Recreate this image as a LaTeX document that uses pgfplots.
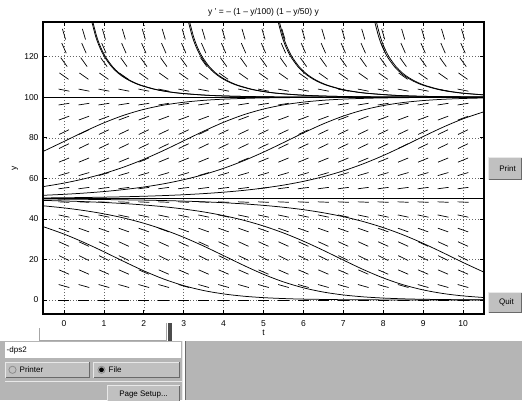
\documentclass[border=0pt]{standalone}
\usepackage{fontspec}
\setmainfont{Liberation Sans}
\usepackage{pgfplots}
\pgfplotsset{compat=1.18}
\usepackage{pgfplotstable}

\definecolor{panel}{RGB}{181,181,181}
\definecolor{btn}{RGB}{192,192,192}
\definecolor{shadow}{RGB}{105,105,105}
\definecolor{hilite}{RGB}{232,232,232}

% slope segments of the field, one row of the grid per line (same in every column)
\pgfplotstableread{
y     u      v
0     0.2757  0
6.9   0.2654 -1.4695
13.8  0.2526 -2.1752
20.7  0.2477 -2.3824
27.6  0.2510 -2.2467
34.5  0.2597 -1.8195
41.4  0.2697 -1.1255
48.3  0.2754 -0.2338
55.2  0.2734  0.7031
62.1  0.2648  1.5084
69.0  0.2548  2.0711
75.9  0.2484  2.3536
82.8  0.2491  2.3268
89.7  0.2583  1.8951
96.6  0.2724  0.8338
103.5 0.2705 -1.0484
110.4 0.2254 -3.1258
117.3 0.1612 -4.4026
124.2 0.1113 -4.9648
131.1 0.0787 -5.2011
}\slopes

\newcommand\guibtn[4]{%
  \fill[btn] (#1,#2) rectangle (#3,#4);
  \draw[hilite, line width=1pt] (#1+0.5,#2+0.5) -- (#1+0.5,#4-0.5) -- (#3-0.5,#4-0.5);
  \draw[shadow, line width=1pt] (#1+0.5,#2+0.5) -- (#3-0.5,#2+0.5) -- (#3-0.5,#4-0.5);}

\begin{document}
\begin{tikzpicture}[x=1pt,y=1pt]
\useasboundingbox (0,0) rectangle (522,400);
\fill[white] (0,0) rectangle (522,400);

\begin{axis}[
    at={(43pt,86pt)}, anchor=south west,
    scale only axis, width=441pt, height=292pt,
    xmin=-0.526, xmax=10.526, ymin=-6.9, ymax=137.1,
    xtick={0,1,...,10}, ytick={0,20,...,120},
    grid=major,
    major grid style={black!60, dash pattern=on 0.7pt off 2.3pt, line width=0.5pt},
    tick align=inside, major tick length=4pt,
    axis line style={line width=1.4pt},
    tick style={black, line width=0.6pt},
    every tick label/.append style={font=\fontsize{8.5}{10}\selectfont},
    xticklabel style={yshift=-2.8pt},
    yticklabel style={xshift=-1pt},
    /pgf/number format/assume math mode=true,
]
% direction field
\pgfplotsinvokeforeach{0,0.5,1,1.5,2,2.5,3,3.5,4,4.5,5,5.5,6,6.5,7,7.5,8,8.5,9,9.5,10}{
  \addplot[black, line width=0.7pt, quiver={u=\thisrow{u}, v=\thisrow{v}}]
    table[x expr={#1-0.5*\thisrow{u}}, y expr={\thisrow{y}-0.5*\thisrow{v}}] {\slopes};
}

% equilibria
\addplot[black, line width=1.3pt] coordinates {(-0.526,100) (10.526,100)};
\addplot[black, line width=1.3pt] coordinates {(-0.526,50) (10.526,50)};

% solutions above 100
\addplot[black, line width=0.75pt, smooth] coordinates {
 (0.699,137.1) (0.794,130) (0.887,125) (1.013,120) (1.195,115) (1.350,112) (1.485,110) (1.658,108)
 (1.895,106) (2.246,104) (2.506,103) (2.884,102) (3.548,101) (4.226,100.5) (5.133,100.2) (5.824,100.1)
 (6.515,100.05) (8.5,100.007) (10.526,100.001)};
\addplot[black, line width=0.75pt, smooth] coordinates {
 (0.724,137.1) (0.819,130) (0.912,125) (1.038,120) (1.220,115) (1.375,112) (1.510,110) (1.683,108)
 (1.920,106) (2.271,104) (2.531,103) (2.909,102) (3.573,101) (4.251,100.5) (5.158,100.2) (5.849,100.1)
 (6.540,100.05) (8.5,100.007) (10.526,100.001)};
\addplot[black, line width=0.75pt, smooth] coordinates {
 (3.119,137.1) (3.215,130) (3.307,125) (3.433,120) (3.615,115) (3.770,112) (3.905,110) (4.079,108)
 (4.315,106) (4.667,104) (4.927,103) (5.304,102) (5.968,101) (6.646,100.5) (7.554,100.2) (8.244,100.1)
 (8.935,100.05) (10.526,100.01)};
\addplot[black, line width=0.75pt, smooth] coordinates {
 (3.149,137.1) (3.245,130) (3.337,125) (3.463,120) (3.645,115) (3.800,112) (3.935,110) (4.109,108)
 (4.345,106) (4.697,104) (4.957,103) (5.334,102) (5.998,101) (6.676,100.5) (7.584,100.2) (8.274,100.1)
 (8.965,100.05) (10.526,100.011)};
\addplot[black, line width=0.75pt, smooth] coordinates {
 (5.369,137.1) (5.464,130) (5.557,125) (5.683,120) (5.865,115) (6.020,112) (6.155,110) (6.328,108)
 (6.565,106) (6.916,104) (7.176,103) (7.553,102) (8.218,101) (8.896,100.5) (9.803,100.2) (10.526,100.097)};
\addplot[black, line width=0.75pt, smooth] coordinates {
 (5.399,137.1) (5.494,130) (5.587,125) (5.713,120) (5.895,115) (6.050,112) (6.185,110) (6.358,108)
 (6.595,106) (6.946,104) (7.206,103) (7.583,102) (8.248,101) (8.926,100.5) (9.833,100.2) (10.526,100.10)};
\addplot[black, line width=0.75pt, smooth] coordinates {
 (7.789,137.1) (7.884,130) (7.977,125) (8.103,120) (8.285,115) (8.440,112) (8.575,110) (8.748,108)
 (8.985,106) (9.336,104) (9.596,103) (9.973,102) (10.526,101.12)};
\addplot[black, line width=0.75pt, smooth] coordinates {
 (7.829,137.1) (7.924,130) (8.017,125) (8.143,120) (8.325,115) (8.480,112) (8.615,110) (8.788,108)
 (9.025,106) (9.376,104) (9.636,103) (10.013,102) (10.526,101.17)};

% solutions between 50 and 100
\addplot[black, line width=0.75pt, smooth] coordinates {
 (-0.526,73.24) (0,78.19) (0.5,82.96) (1,87.38) (1.5,91.12) (2,94.02) (2.5,96.11) (3,97.53) (3.5,98.46)
 (4,99.05) (4.5,99.41) (5,99.64) (6,99.87) (7,99.95) (8,99.98) (10.526,100)};
\addplot[black, line width=0.75pt, smooth] coordinates {
 (-0.526,55.91) (0,57.65) (0.5,59.75) (1,62.37) (1.5,65.58) (2,69.40) (2.5,73.78) (3,78.51) (3.5,83.27)
 (4,87.65) (4.5,91.34) (5,94.18) (5.5,96.22) (6,97.60) (6.5,98.50) (7,99.08) (7.5,99.43) (8,99.65)
 (9,99.87) (10,99.95) (10.526,99.97)};
\addplot[black, line width=0.75pt, smooth] coordinates {
 (-0.526,51.63) (0,52.12) (0.5,52.72) (1,53.48) (1.5,54.47) (2,55.72) (2.5,57.31) (3,59.33) (3.5,61.84)
 (4,64.94) (4.5,68.65) (5,72.93) (5.5,77.62) (6,82.40) (6.5,86.88) (7,90.71) (7.5,93.72) (8,95.89)
 (8.5,97.39) (9,98.36) (9.5,98.99) (10,99.38) (10.526,99.63)};
\addplot[black, line width=0.75pt, smooth] coordinates {
 (-0.526,50.33) (0,50.43) (0.5,50.55) (1,50.71) (1.5,50.91) (2,51.17) (2.5,51.50) (3,51.92) (3.5,52.47)
 (4,53.17) (4.5,54.06) (5,55.21) (5.5,56.66) (6,58.51) (6.5,60.82) (7,63.69) (7.5,67.17) (8,71.24)
 (8.5,75.81) (9,80.60) (9.5,85.24) (10,89.35) (10.526,92.83)};

% solutions below 50
\addplot[black, line width=0.75pt, smooth] coordinates {
 (-0.526,49.79) (0,49.73) (1,49.55) (2,49.26) (2.5,49.05) (3,48.78) (3.5,48.43) (4,47.98) (4.5,47.41)
 (5,46.68) (5.5,45.74) (6,44.55) (6.5,43.02) (7,41.10) (7.5,38.69) (8,35.71) (8.5,32.12) (9,27.94)
 (9.5,23.31) (10,18.51) (10.526,13.72)};
\addplot[black, line width=0.75pt, smooth] coordinates {
 (-0.526,49.12) (0,48.85) (0.5,48.52) (1,48.10) (1.5,47.57) (2,46.88) (2.5,46.00) (3,44.87) (3.5,43.44)
 (4,41.62) (4.5,39.34) (5,36.51) (5.5,33.07) (6,29.03) (6.5,24.49) (7,19.70) (7.5,15.04) (8,10.88)
 (8.5,7.51) (9,4.98) (9.5,3.20) (10,2.02) (10.526,1.22)};
\addplot[black, line width=0.75pt, smooth] coordinates {
 (-0.526,46.47) (0,45.42) (0.5,44.13) (1,42.50) (1.5,40.44) (2,37.86) (2.5,34.70) (3,30.93) (3.5,26.59)
 (4,21.88) (4.5,17.11) (5,12.68) (5.5,8.93) (6,6.02) (6.5,3.92) (7,2.49) (7.5,1.56) (8,0.96)
 (8.5,0.59) (9,0.36) (10,0.13) (10.526,0.08)};
\addplot[black, line width=0.75pt, smooth] coordinates {
 (-0.526,36.21) (0,32.52) (0.5,28.39) (1,23.80) (1.5,19.00) (2,14.39) (2.5,10.34) (3,7.09) (3.5,4.67)
 (4,3.00) (4.5,1.88) (5,1.17) (5.5,0.72) (6,0.44) (7,0.16) (8,0.06) (9,0.02) (10.526,0.005)};
\end{axis}

% titles and axis labels
\node[font=\fontsize{8.5}{10}\selectfont] at (263.5,388) {y ' = – (1 – y/100) (1 – y/50) y};
\node[font=\fontsize{8.5}{10}\selectfont] at (263.5,67) {t};
\node[font=\fontsize{8.5}{10}\selectfont, rotate=90] at (15,232) {y};

% window controls
\guibtn{488}{220}{522}{243}
\node[font=\fontsize{8}{9}\selectfont] at (507.5,231.5) {Print};
\guibtn{488}{87}{522}{108}
\node[font=\fontsize{8}{9}\selectfont] at (506.5,97.5) {Quit};

% frame behind the plot
\draw[black!35, line width=1pt] (39,72) -- (39,59.5) -- (166,59.5) -- (166,77);
\fill[black!70] (168,59) rectangle (172,77);

% lower panels
\fill[panel] (0,0) rectangle (183,59);
\fill[panel] (186,0) rectangle (522,59);
\draw[hilite, line width=1pt] (182.5,0) -- (182.5,59);
\draw[shadow, line width=1pt] (185.5,0) -- (185.5,59);
\fill[white] (5,42) rectangle (181,58);
\node[font=\fontsize{8}{9}\selectfont, anchor=west, inner sep=0pt] at (6.5,50) {-dps2};
\guibtn{5}{22}{90}{38.5}
\draw[black!45, line width=0.8pt] (12.5,30.2) circle (3.6);
\node[font=\fontsize{8}{9}\selectfont, anchor=west, inner sep=0pt] at (19.5,30) {Printer};
\guibtn{93}{22}{180}{38.5}
\draw[black!45, line width=0.8pt] (101.5,30.2) circle (3.6);
\fill[black] (101.5,30.2) circle (2.4);
\node[font=\fontsize{8}{9}\selectfont, anchor=west, inner sep=0pt] at (108.5,30) {File};
\draw[hilite, line width=1pt] (5,18.5) -- (182,18.5);
\guibtn{107}{-3}{180}{15}
\node[font=\fontsize{8}{9}\selectfont] at (143.5,5.5) {Page Setup...};
\end{tikzpicture}
\end{document}
